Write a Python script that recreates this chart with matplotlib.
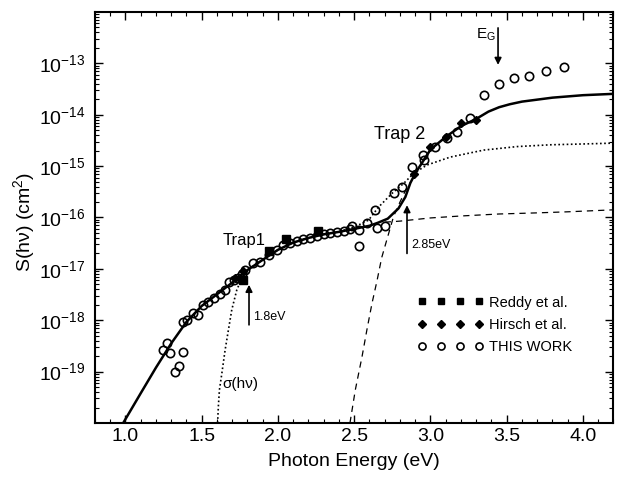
import matplotlib
matplotlib.use("Agg")
import matplotlib.pyplot as plt
from matplotlib.ticker import FixedLocator, LogLocator, MultipleLocator, NullFormatter

plt.rcParams["font.family"] = ["Liberation Sans", "DejaVu Sans"]
plt.rcParams["mathtext.fontset"] = "custom"
plt.rcParams["mathtext.rm"] = "Liberation Sans"
plt.rcParams["mathtext.it"] = "Liberation Sans:italic"
plt.rcParams["mathtext.bf"] = "Liberation Sans:bold"

# THIS WORK (open circles), photon energy in eV, S in cm^2
work_e = [1.248, 1.271, 1.292, 1.376, 1.353, 1.325, 1.376, 1.402, 1.441, 1.478,
          1.511, 1.544, 1.581, 1.620, 1.653, 1.682, 1.712, 1.741, 1.767, 1.785,
          1.839, 1.883, 1.938, 1.993, 2.036, 2.080, 2.124, 2.167, 2.211, 2.255,
          2.299, 2.343, 2.386, 2.430, 2.474, 2.485, 2.528, 2.528, 2.583, 2.649,
          2.703, 2.638, 2.758, 2.813, 2.879, 2.951, 2.955, 3.032, 3.108, 3.174,
          3.261, 3.349, 3.447, 3.546, 3.644, 3.760, 3.878]
work_s = [2.63e-19, 3.55e-19, 2.29e-19, 2.40e-19, 1.26e-19, 9.8e-20, 9.3e-19, 1.0e-18, 1.41e-18, 1.29e-18,
          2.0e-18, 2.29e-18, 2.69e-18, 3.31e-18, 3.89e-18, 5.5e-18, 6.0e-18, 6.6e-18, 8.1e-18, 9.5e-18,
          1.29e-17, 1.38e-17, 1.86e-17, 2.34e-17, 2.88e-17, 3.24e-17, 3.55e-17, 3.80e-17, 4.07e-17, 4.37e-17,
          4.68e-17, 4.90e-17, 5.13e-17, 5.50e-17, 6.03e-17, 6.76e-17, 5.75e-17, 2.75e-17, 7.94e-17, 6.17e-17,
          6.76e-17, 1.41e-16, 3.02e-16, 3.98e-16, 9.8e-16, 1.66e-15, 1.29e-15, 2.40e-15, 3.47e-15, 4.68e-15,
          8.5e-15, 2.40e-14, 3.89e-14, 5.25e-14, 5.62e-14, 7.08e-14, 8.5e-14]

# Reddy et al. (filled squares)
reddy_e = [1.77, 1.94, 2.05, 2.26]
reddy_s = [6.1e-18, 2.2e-17, 3.8e-17, 5.5e-17]

# Hirsch et al. (filled diamonds)
hirsch_e = [1.72, 1.77, 2.89, 3.00, 3.10, 3.20, 3.30]
hirsch_s = [6.5e-18, 9.0e-18, 6.9e-16, 2.4e-15, 3.7e-15, 6.8e-15, 7.9e-15]

# fitted total S(hv) (solid)
fit_e = [0.985, 1.10, 1.20, 1.30, 1.40, 1.50, 1.60, 1.70, 1.80, 1.90, 2.00, 2.10,
         2.20, 2.30, 2.40, 2.50, 2.60, 2.66, 2.72, 2.79, 2.835, 2.868, 2.90, 3.00,
         3.10, 3.20, 3.30, 3.38, 3.45, 3.52, 3.60, 3.80, 4.00, 4.20]
fit_s = [1.0e-20, 3.8e-20, 1.2e-19, 3.55e-19, 9.3e-19, 1.9e-18, 3.2e-18, 5.4e-18, 9.5e-18, 1.5e-17, 2.35e-17, 3.25e-17,
         4.0e-17, 4.7e-17, 5.25e-17, 6.0e-17, 6.9e-17, 8.0e-17, 9.5e-17, 1.5e-16, 2.5e-16, 4.7e-16, 7.2e-16, 2.1e-15,
         3.7e-15, 6.0e-15, 8.3e-15, 1.15e-14, 1.4e-14, 1.6e-14, 1.8e-14, 2.15e-14, 2.4e-14, 2.55e-14]

# sigma(hv) (dotted)
sigma_e = [1.604, 1.609, 1.616, 1.632, 1.653, 1.675, 1.697, 1.730, 1.763, 1.82, 1.90, 2.00,
           2.10, 2.20, 2.30, 2.40, 2.50, 2.594, 2.66, 2.748, 2.824, 2.889, 2.977, 3.13,
           3.349, 3.568, 3.787, 4.005, 4.20]
sigma_s = [1.0e-20, 2.1e-20, 4.4e-20, 9.3e-20, 2.6e-19, 6.5e-19, 1.6e-18, 3.9e-18, 6.6e-18, 1.05e-17, 1.5e-17, 2.35e-17,
           3.25e-17, 4.0e-17, 4.7e-17, 5.3e-17, 6.5e-17, 8.9e-17, 1.6e-16, 2.95e-16, 4.6e-16, 7.2e-16, 1.05e-15, 1.5e-15,
           2.05e-15, 2.4e-15, 2.6e-15, 2.7e-15, 2.8e-15]

# trap 2 onset (dashed)
trap2_e = [2.472, 2.507, 2.551, 2.583, 2.616, 2.65, 2.68, 2.715, 2.758, 2.80, 2.84, 2.868]
trap2_s = [1.0e-20, 4.4e-20, 1.95e-19, 6.5e-19, 2.1e-18, 6.0e-18, 1.65e-17, 3.8e-17, 1.05e-16, 2.0e-16, 3.55e-16, 4.8e-16]

# trap 1 continuation (dashed)
trap1_e = [2.70, 2.80, 3.00, 3.20, 3.45, 3.70, 3.90, 4.20]
trap1_s = [8.1e-17, 8.5e-17, 9.8e-17, 1.07e-16, 1.17e-16, 1.23e-16, 1.29e-16, 1.41e-16]

y_ticks = [1e-19, 1e-18, 1e-17, 1e-16, 1e-15, 1e-14, 1e-13]
y_labels = ["$10^{-19}$", "$10^{-18}$", "$10^{-17}$", "$10^{-16}$",
            "$10^{-15}$", "$10^{-14}$", "$10^{-13}$"]


def arrow(ax, x, y_tail, y_tip):
    """Draws a vertical pointer arrow."""
    ax.annotate("", xy=(x, y_tip), xytext=(x, y_tail),
                arrowprops=dict(arrowstyle="-|>", color="black", lw=1.2,
                                mutation_scale=10, shrinkA=0, shrinkB=0))


def main():
    fig = plt.figure(figsize=(6.18, 4.79), dpi=100)
    ax = fig.add_axes([0.1537, 0.1169, 0.8390, 0.8581])
    ax.set_yscale("log")

    # model curves
    ax.plot(fit_e, fit_s, color="black", lw=1.8, zorder=3)
    ax.plot(sigma_e, sigma_s, color="black", lw=1.2, linestyle=(0, (1, 1.5)), zorder=2)
    ax.plot(trap2_e, trap2_s, color="black", lw=0.9, dashes=(5, 4), zorder=2)
    ax.plot(trap1_e, trap1_s, color="black", lw=0.9, dashes=(5, 4), zorder=2)

    # measured points
    ax.plot(reddy_e, reddy_s, "s", color="black", ms=5.5, ls="none",
            label="Reddy et al.", zorder=4)
    ax.plot(hirsch_e, hirsch_s, "D", color="black", ms=4.5, ls="none",
            label="Hirsch et al.", zorder=4)
    ax.plot(work_e, work_s, "o", mfc="none", mec="black", mew=1.2, ms=6,
            ls="none", label="THIS WORK", zorder=5)

    ax.set_xlim(0.8, 4.2)
    ax.set_ylim(1e-20, 1e-12)

    # annotations
    ax.text(1.634, 10 ** -16.44, "Trap1", fontsize=12, va="center", ha="left")
    ax.text(2.80, 10 ** -14.39, "Trap 2", fontsize=13, va="center", ha="center")
    ax.text(3.30, 10 ** -12.45, r"E$_\mathregular{G}$", fontsize=11, va="center", ha="left")
    arrow(ax, 3.443, 10 ** -12.31, 10 ** -13.03)
    arrow(ax, 1.81, 10 ** -18.09, 10 ** -17.31)
    ax.text(1.835, 10 ** -17.94, "1.8eV", fontsize=9, va="center", ha="left")
    arrow(ax, 2.846, 10 ** -16.70, 10 ** -15.76)
    ax.text(2.875, 10 ** -16.535, "2.85eV", fontsize=9, va="center", ha="left")
    ax.text(1.634, 10 ** -19.24, "σ(hν)", fontsize=11, va="center", ha="left")

    # axes styling
    ax.set_xlabel("Photon Energy (eV)", fontsize=14, labelpad=6)
    ax.set_ylabel("S(hν) (cm$^2$)", fontsize=14)
    ax.yaxis.set_label_coords(-0.112, 0.49)
    ax.xaxis.set_major_locator(MultipleLocator(0.5))
    ax.xaxis.set_minor_locator(MultipleLocator(0.1))
    ax.yaxis.set_major_locator(FixedLocator(y_ticks))
    ax.set_yticklabels(y_labels)
    ax.yaxis.set_minor_locator(LogLocator(base=10, subs=range(2, 10), numticks=20))
    ax.yaxis.set_minor_formatter(NullFormatter())
    ax.tick_params(which="both", direction="in", top=True, right=True, labelsize=14)
    ax.tick_params(axis="y", which="major", pad=7)
    ax.tick_params(which="major", length=6, width=1)
    ax.tick_params(which="minor", length=3, width=0.8)
    for spine in ax.spines.values():
        spine.set_linewidth(1.5)

    ax.legend(loc="upper left", bbox_to_anchor=(0.622, 0.31), frameon=False,
              numpoints=4, handlelength=4.55, handletextpad=0.35, labelspacing=0.55,
              borderpad=0, borderaxespad=0, fontsize=10.5, markerscale=0.85)

    fig.savefig("out.png", dpi=100)


if __name__ == "__main__":
    main()
